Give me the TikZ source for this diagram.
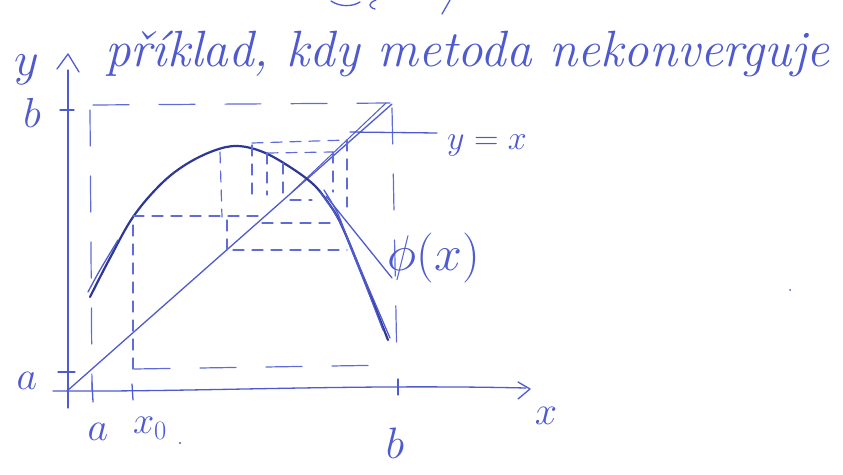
\RequirePackage{fix-cm}
\documentclass[tikz,border=0pt]{standalone}
\usepackage{fontspec}
\definecolor{penblue}{RGB}{78,90,205}
\definecolor{curveblue}{RGB}{45,55,150}
\definecolor{dashblue}{RGB}{95,108,215}
\begin{document}
\begin{tikzpicture}[x=1pt,y=-1pt,
  pen/.style={draw=penblue, line width=1.3pt, line cap=round, line join=round},
  dsh/.style={draw=dashblue, line width=1.2pt, line cap=round, dash pattern=on 11pt off 8pt},
  bigdsh/.style={draw=dashblue, line width=1.2pt, line cap=round, dash pattern=on 36pt off 30pt},
  curvest/.style={draw=curveblue, line width=2.2pt, line cap=round, line join=round},
  lbl/.style={text=penblue, inner sep=0pt}]
\useasboundingbox (0,0) rectangle (843,474);

% title
\node[lbl, anchor=base west] (title) at (105,66) {\fontsize{51}{56}\selectfont\itshape příklad, kdy metoda nekonverguje};
% fragment of the line above
\draw[pen] (331,1) .. controls (340,7) and (352,7) .. (360,2);
\draw[pen] (376,0) .. controls (368,3) and (368,7) .. (375,9);
\draw[pen] (450,0) -- (442,14);

% axes
\coordinate (O) at (67,391);
\coordinate (ytop) at (68,70);
\coordinate (xend) at (526,388);
\draw[pen] (68,408) -- (ytop);
\draw[pen] (57,69) -- (68,54) -- (79,72);
\draw[pen] (53,391) .. controls (200,392) and (350,384) .. (xend);
\draw[pen] (518,382) -- (530,389) -- (518,399);

% ticks
\draw[pen] (60,110) -- (74,110);
\draw[pen] (58,372) -- (75,372);
\draw[pen] (92,382) -- (93,402);
\draw[pen] (132,384) -- (133,400);
\draw[pen] (398,379) -- (398,395);

% dashed box [a,b]x[a,b]
\draw[bigdsh] (93,105) -- (390,103);
\draw[bigdsh] (90,110) -- (92,390);
\draw[bigdsh] (134,369) -- (396,365);
\draw[bigdsh] (392,108) -- (397,367);

% diagonal y = x
\draw[pen] (O) -- (392,104);
\draw[pen, line width=1pt] (292,192) -- (386,103);
\coordinate (yxp) at (350,132);
\node[lbl] (yx) at (487,145) {\fontsize{34}{40}\selectfont$y = x$};
\draw[pen] (yxp) -- (437,133);

% curve phi(x)
\draw[curvest] plot[smooth, tension=0.6] coordinates {(90,297) (110,258) (133,217) (160,185) (185,165) (213,151) (237,146) (263,152) (290,167) (313,184) (327,201) (340,222) (357,262) (373,302) (388,340)};
\draw[pen] plot[smooth] coordinates {(88,292) (100,270) (118,240)};
\draw[pen] plot[smooth] coordinates {(320,192) (333,210) (345,232) (360,268) (378,310) (390,338)};
\draw[pen] plot[smooth] coordinates {(324,190) (338,214) (350,246) (366,286) (383,330)};
\draw[pen] (326,196) -- (392,278);
\node[lbl] (phi) at (434,258) {\fontsize{50}{56}\selectfont$\phi(x)$};

% cobweb
\draw[dsh] (133,369) -- (133,217);
\draw[dsh] (133,216) -- (265,216);
\draw[dsh] (220,152) -- (222,217);
\draw[dsh] (252,145) -- (252,197);
\draw[dsh] (267,153) -- (267,195);
\draw[dsh] (283,163) -- (283,195);
\draw[dsh] (252,143) -- (347,140);
\draw[dsh] (267,153) -- (333,152);
\draw[dsh] (347,140) -- (347,207);
\draw[dsh] (333,152) -- (333,192);
\draw[dsh] (290,200) -- (312,200);
\draw[dsh] (262,223) -- (333,223);
\draw[dsh] (233,250) -- (347,250);
\draw[dsh] (227,220) -- (227,255);

% labels
\node[lbl] (ly) at (27,70) {\fontsize{48}{52}\selectfont$y$};
\node[lbl] (lbl-b) at (32,113) {\fontsize{42}{48}\selectfont$b$};
\node[lbl] (lbl-a) at (27,381) {\fontsize{40}{46}\selectfont$a$};
\node[lbl] (xa) at (98,432) {\fontsize{40}{46}\selectfont$a$};
\node[lbl] (xx0) at (150,428) {\fontsize{38}{44}\selectfont$x_0$};
\node[lbl] (xb) at (395,443) {\fontsize{44}{50}\selectfont$b$};
\node[lbl] (xlab) at (546,416) {\fontsize{40}{46}\selectfont$x$};
\fill[penblue] (180,443) circle (1.2pt);
\fill[penblue] (790,290) circle (1pt);
\end{tikzpicture}
\end{document}
